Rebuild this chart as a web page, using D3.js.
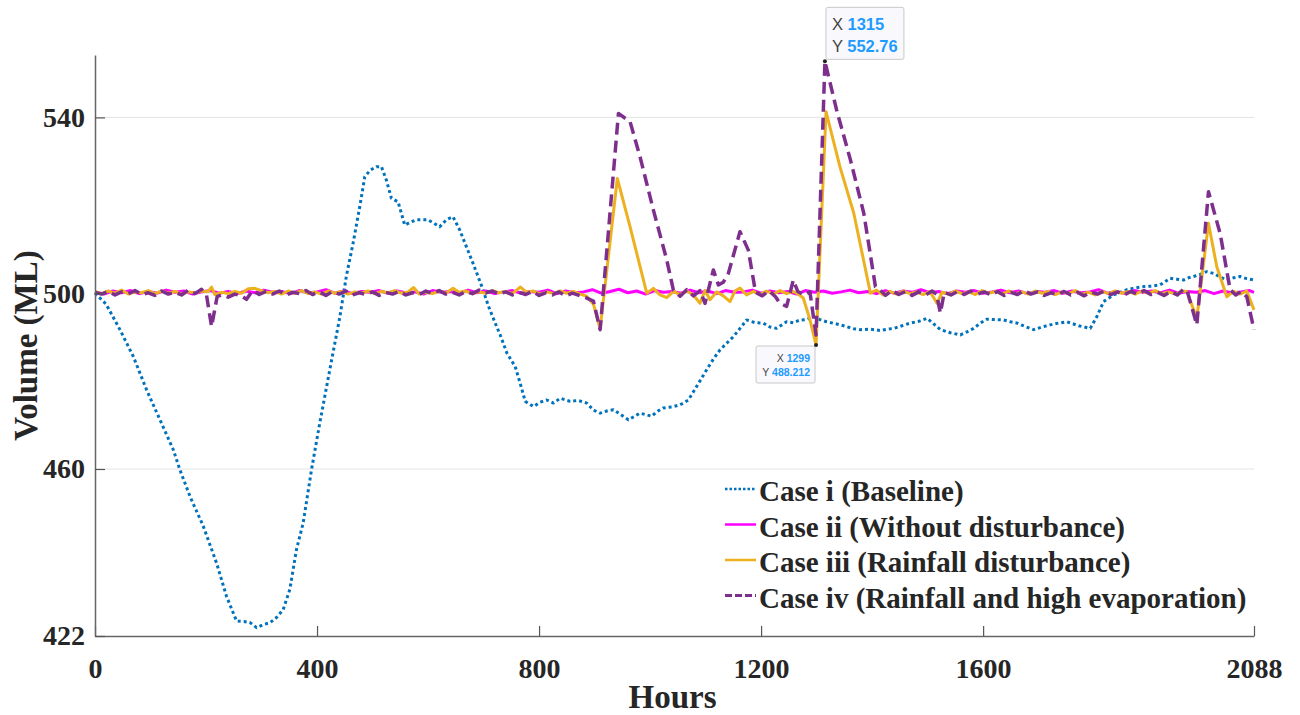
<!DOCTYPE html>
<html>
<head>
<meta charset="utf-8">
<script src="https://cdnjs.cloudflare.com/ajax/libs/d3/7.8.5/d3.min.js"></script>
<style>
  body { margin: 0; background: #fff; }
  svg text { font-family: "Liberation Serif", "Times New Roman", serif; font-weight: bold; fill: #262626; }
  .tip text { font-family: "Liberation Sans", Arial, sans-serif; font-weight: normal; }
</style>
</head>
<body>
<div id="chart"></div>
<script>
var xTicks = [0, 400, 800, 1200, 1600, 2088],
    yTicks = [422, 460, 500, 540];

var seriesNames = ["Case i (Baseline)", "Case ii (Without disturbance)", "Case iii (Rainfall disturbance)", "Case iv (Rainfall and high evaporation)"];

// case i: [hour, volume]
var caseI = [[0,500],[20,497.5],[45,491.7],[69,485.6],[93,478],[117,471.2],[141,464.4],[153,459.8],[171,453.8],[195,447],[219,438.6],[237,431],[255,425.4],[268,425.3],[279,425.1],[291,423.9],[303,424.6],[315,425],[327,426.2],[339,428],[351,432.6],[363,441.7],[375,447.7],[390,459.8],[405,470.5],[423,482.6],[441,494.5],[453,504],[465,511.4],[477,519.7],[486,526.5],[496,528],[507,528.8],[516,528.8],[525,525.7],[534,521.6],[546,520.8],[558,515.5],[569,516.2],[579,516.7],[600,516.7],[612,515.8],[621,515.1],[633,516.7],[645,517.4],[657,514.4],[669,510.6],[681,506.8],[697,501.5],[709,497],[720,493.5],[730,490.5],[742,486.4],[757,483.3],[766,479.5],[775,475.4],[790,474.2],[802,475.2],[814,475.7],[826,475],[838,476.1],[856,475.4],[870,475.6],[886,475],[898,473.4],[910,472.7],[922,473.2],[934,473.5],[947,472.4],[961,471.2],[972,472],[982,472.7],[1003,472],[1013,473.1],[1024,473.9],[1039,474.1],[1054,474.6],[1069,475.7],[1084,478.8],[1102,482.6],[1114,485],[1126,487.1],[1138,488.6],[1150,490.1],[1162,492],[1174,493.9],[1189,493.3],[1204,493.2],[1216,492.3],[1228,492],[1246,493.5],[1258,493.3],[1270,493.9],[1282,494],[1294,494.7],[1306,494],[1318,493.5],[1336,493],[1354,492.4],[1367,491.9],[1379,491.7],[1397,491.8],[1415,491.5],[1427,491.8],[1439,492],[1454,492.6],[1469,493.2],[1484,493.6],[1499,494.3],[1511,493],[1523,491.7],[1541,491],[1559,490.5],[1571,491.2],[1583,492],[1595,493.2],[1607,494.1],[1622,494],[1637,493.9],[1649,493.5],[1661,493.2],[1676,492.4],[1691,491.7],[1706,492.3],[1721,492.8],[1736,493.2],[1751,493.5],[1772,492.6],[1793,492],[1805,494.7],[1817,498.1],[1835,499.6],[1847,500.2],[1859,500.8],[1874,501.2],[1889,501.5],[1904,501.6],[1919,501.9],[1937,503.4],[1949,503.2],[1961,503],[1970,503.5],[1979,503.8],[1991,504.3],[2003,504.9],[2015,504.5],[2027,503.7],[2039,503],[2051,503.5],[2063,503.8],[2075,503.3],[2088,503]];

// case ii: read every 16 h
var caseIIHours = d3.range(0, 2088, 16).concat([2088]);
var caseIIValues = [500.3,499.8,500.5,500.1,500.6,499.9,500.4,500.0,500.7,500.2,
  500.5,499.8,500.3,500.6,500.0,500.4,499.9,500.5,500.1,500.7,
  500.2,500.4,499.9,500.6,500.1,500.3,500.8,500.0,500.5,499.9,
  500.4,500.2,500.6,500.0,500.5,500.1,500.3,499.8,500.6,500.2,
  500.4,500.0,500.7,500.1,500.5,499.9,500.3,500.6,500.0,500.4,
  500.2,500.7,499.9,500.5,500.1,500.3,500.8,500.0,500.4,500.9,
  500.1,500.5,499.8,500.6,500.2,500.4,500.0,500.7,500.1,500.5,
  499.9,500.6,500.2,500.3,500.7,500.0,500.5,500.1,500.4,499.8,
  500.6,500.2,500.5,500.0,500.3,500.7,500.1,500.4,499.9,500.6,
  500.0,500.5,500.2,500.8,500.1,500.4,499.9,500.5,500.2,500.6,
  500.0,500.3,500.7,500.1,500.5,499.9,500.4,500.2,500.6,500.0,
  500.5,500.1,500.3,500.8,500.0,500.4,499.9,500.6,500.2,500.5,
  500.1,500.7,500.0,500.4,500.2,500.6,499.9,500.5,500.1,500.3,
  500.6,500.2];

var caseIII = [[0,500.4],[12,499.9],[24,500.5],[36,500.0],[48,500.7],[60,499.8],[72,500.3],[84,500.1],[96,500.6],[108,499.9],[120,500.5],[132,500.0],[144,500.4],[156,499.8],[168,500.3],[180,500.1],[192,500.5],[204,500.4],[210,501.4],[216,499.7],[228,500.2],[240,499.9],[252,500.4],[264,500.0],[276,501.0],[288,501.1],[300,500.6],[312,500.1],[324,500.4],[336,499.8],[348,500.5],[360,500.0],[372,500.6],[384,499.9],[396,500.3],[408,499.8],[420,500.5],[432,500.0],[444,500.4],[456,499.8],[468,500.3],[480,500.0],[492,500.5],[504,499.9],[516,500.4],[528,500.1],[540,500.6],[552,500.0],[564,500.3],[574,501.3],[584,499.8],[596,500.2],[608,499.9],[620,500.5],[632,500.0],[645,501.1],[656,500.2],[668,500.5],[680,499.9],[692,500.3],[704,500.0],[716,500.6],[728,500.1],[740,500.4],[752,499.9],[766,501.4],[778,500.2],[790,500.5],[802,499.8],[814,500.3],[826,499.9],[838,500.5],[850,500.0],[862,500.4],[874,499.8],[886,499.3],[898,497.5],[910,491.9],[941,526.1],[964,515.1],[994,500.0],[1006,501.1],[1018,499.6],[1030,499.0],[1042,500.4],[1054,499.7],[1066,500.5],[1078,499.6],[1090,497.7],[1099,500.6],[1108,498.5],[1120,500.3],[1132,499.4],[1144,498.1],[1153,500.5],[1162,501.2],[1174,499.6],[1186,500.4],[1198,499.7],[1210,500.5],[1222,499.8],[1234,500.6],[1246,499.9],[1258,500.4],[1268,499.7],[1276,498.9],[1288,494],[1299,488.212],[1317,541.3],[1342,528.8],[1367,518.2],[1397,500.0],[1408,500.7],[1420,499.6],[1432,500.4],[1444,499.8],[1456,500.5],[1468,499.9],[1480,500.3],[1492,499.7],[1504,500.4],[1517,497.7],[1526,500.2],[1538,499.8],[1550,500.5],[1562,499.9],[1574,500.3],[1586,499.7],[1598,500.6],[1610,500.0],[1622,500.4],[1634,499.8],[1646,500.5],[1658,499.9],[1670,500.3],[1682,499.8],[1694,500.5],[1706,500.0],[1718,500.4],[1730,499.7],[1742,500.3],[1754,499.9],[1766,500.6],[1778,499.8],[1790,500.2],[1802,499.6],[1814,500.4],[1826,499.9],[1838,500.5],[1850,500.0],[1862,500.4],[1874,499.8],[1886,500.5],[1898,500.0],[1910,500.6],[1922,499.9],[1934,500.3],[1946,499.8],[1958,500.5],[1967,500.4],[1985,494.3],[2006,515.9],[2021,506.0],[2039,499.2],[2051,500.4],[2063,499.8],[2075,500.5],[2088,496.2]];

var caseIV = [[0,500.2],[12,499.8],[24,500.4],[36,499.6],[48,500.3],[60,499.9],[72,500.6],[84,499.7],[96,500.1],[108,499.5],[120,500.5],[132,499.8],[144,500.2],[156,499.6],[168,500.7],[180,499.9],[192,500.9],[201,499.5],[210,492.4],[220,499.2],[228,499.6],[240,499.1],[252,499.8],[264,499.4],[273,498.6],[284,500.6],[296,499.7],[308,500.4],[320,499.8],[332,500.5],[344,499.6],[356,500.2],[368,499.9],[380,500.6],[392,499.7],[404,500.3],[416,499.5],[428,500.4],[440,499.8],[452,500.5],[464,499.6],[476,500.1],[488,499.7],[500,500.3],[512,499.5],[524,500.2],[536,499.8],[548,500.4],[560,499.6],[572,500.1],[584,499.7],[596,500.5],[608,499.9],[620,500.6],[632,499.8],[644,500.2],[656,499.6],[668,500.4],[680,499.9],[692,500.7],[704,500.1],[716,500.5],[728,499.8],[740,500.3],[752,499.6],[764,500.2],[776,499.7],[788,500.4],[800,499.5],[812,500.1],[824,499.6],[836,500.3],[848,499.4],[860,500.0],[872,499.5],[884,499.0],[898,498.2],[910,491.7],[943,540.9],[964,539.0],[982,531],[1006,518.9],[1030,507.6],[1042,500.7],[1054,499.3],[1066,500.8],[1078,499.4],[1090,500.6],[1099,497.7],[1114,505.3],[1123,501.9],[1132,502.5],[1141,504.5],[1162,514.0],[1177,509.8],[1190,500.2],[1202,499.4],[1214,500.6],[1226,499.2],[1234,497.7],[1246,497.0],[1258,503.0],[1266,500.4],[1278,499.6],[1288,500.3],[1299,490.5],[1315,552.76],[1336,541.7],[1361,530.3],[1385,518.2],[1406,501.5],[1414,500.8],[1424,499.5],[1436,500.6],[1448,499.7],[1460,500.4],[1472,499.5],[1484,500.3],[1496,499.6],[1508,500.5],[1516,499.8],[1523,495.5],[1530,500.2],[1542,499.6],[1554,500.4],[1566,499.7],[1578,500.5],[1590,499.8],[1602,500.3],[1614,499.6],[1626,500.4],[1638,499.5],[1650,500.2],[1662,499.7],[1674,500.6],[1686,499.8],[1698,500.3],[1710,499.5],[1722,500.1],[1734,499.7],[1746,500.4],[1758,499.6],[1770,500.2],[1782,499.4],[1794,500.3],[1806,499.8],[1818,500.5],[1830,499.7],[1842,500.3],[1854,499.6],[1866,500.4],[1878,499.8],[1890,500.6],[1902,499.7],[1914,500.2],[1926,499.5],[1938,500.4],[1950,499.6],[1960,500.8],[1967,500.8],[1985,492.8],[2006,523.1],[2027,513.6],[2045,500.8],[2055,499.6],[2065,500.4],[2075,499.2],[2088,491.7]];

// data tips shown on the figure
var tips = [{x: 1315, y: 552.76, label: "552.76", big: true},
            {x: 1299, y: 488.212, label: "488.212", big: false}];

var margin = {top: 55, right: 46, bottom: 79, left: 95},
    width = 1300 - margin.left - margin.right,
    height = 715 - margin.top - margin.bottom;

var x = d3.scaleLinear().domain([0, 2088]).range([0, width]);
var y = d3.scaleLinear().domain([422, 554.2]).range([height, 0]);

var svg = d3.select("#chart").append("svg")
    .attr("width", 1300)
    .attr("height", 715)
  .append("g")
    .attr("transform", "translate(" + margin.left + "," + margin.top + ")");

// horizontal grid
svg.append("g")
    .selectAll("line")
    .data(yTicks.slice(1))
  .enter().append("line")
    .attr("x1", 0).attr("x2", width)
    .attr("y1", function(d) { return y(d); })
    .attr("y2", function(d) { return y(d); })
    .attr("stroke", "#e3e3e3")
    .attr("stroke-width", 1);

var line = d3.line()
    .x(function(d) { return x(d[0]); })
    .y(function(d) { return y(d[1]); });

var caseII = caseIIHours.map(function(h, i) { return [h, caseIIValues[i]]; })
    .filter(function(d) { return d[1] !== undefined; });

var series = [
  {data: caseI, color: "#0072BD", width: 3, dash: "3,3"},
  {data: caseII, color: "#FF00FF", width: 3, dash: null},
  {data: caseIII, color: "#EDB120", width: 3, dash: null},
  {data: caseIV, color: "#7E2F8E", width: 3.5, dash: "12,6"}
];

svg.selectAll(".series")
    .data(series)
  .enter().append("path")
    .attr("class", "series")
    .attr("d", function(d) { return line(d.data); })
    .attr("fill", "none")
    .attr("stroke", function(d) { return d.color; })
    .attr("stroke-width", function(d) { return d.width; })
    .attr("stroke-dasharray", function(d) { return d.dash; })
    .attr("stroke-linejoin", "round");

// axes, ticks pointing inward
var xAxis = svg.append("g")
    .attr("transform", "translate(0," + height + ")")
    .call(d3.axisBottom(x).tickValues(xTicks).tickSizeInner(-10).tickSizeOuter(0).tickPadding(22).tickFormat(d3.format("d")));

var yAxis = svg.append("g")
    .call(d3.axisLeft(y).tickValues(yTicks).tickSizeInner(-10).tickSizeOuter(0).tickPadding(10).tickFormat(d3.format("d")));

[xAxis, yAxis].forEach(function(a) {
  a.select(".domain").attr("stroke", "#666").attr("stroke-width", 1.5);
  a.selectAll(".tick line").attr("stroke", "#555").attr("stroke-width", 1.2);
  a.selectAll(".tick text").attr("font-size", 28).attr("fill", "#262626")
    .style("font-family", "Liberation Serif").style("font-weight", "bold");
});

svg.append("text")
    .attr("x", width / 2 - 2)
    .attr("y", height + 72)
    .attr("text-anchor", "middle")
    .attr("font-size", 33)
    .text("Hours");

svg.append("text")
    .attr("transform", "translate(-58," + (height / 2) + ") rotate(-90)")
    .attr("text-anchor", "middle")
    .attr("font-size", 33)
    .text("Volume (ML)");

// legend
var legend = svg.selectAll(".legend")
    .data(series)
  .enter().append("g")
    .attr("class", "legend")
    .attr("transform", function(d, i) { return "translate(630," + (436 + i * 35.5) + ")"; });

legend.append("line")
    .attr("x1", 0).attr("x2", 31)
    .attr("y1", -2).attr("y2", -2)
    .attr("stroke", function(d) { return d.color; })
    .attr("stroke-width", function(d) { return d.width - 0.5; })
    .attr("stroke-dasharray", function(d) { return d.dash ? (d.dash === "3,3" ? "2.5,2" : "7,3") : null; });

legend.append("text")
    .attr("x", 34)
    .attr("y", 0)
    .attr("dy", "0.35em")
    .attr("font-size", 29)
    .text(function(d, i) { return seriesNames[i]; });

// data tips
var tip = svg.selectAll(".tip")
    .data(tips)
  .enter().append("g")
    .attr("class", "tip")
    .attr("transform", function(d) { return "translate(" + x(d.x) + "," + y(d.y) + ")"; });

tip.append("rect")
    .attr("x", function(d) { return d.big ? 1 : -60; })
    .attr("y", function(d) { return d.big ? -54 : 1; })
    .attr("width", function(d) { return d.big ? 78 : 59; })
    .attr("height", function(d) { return d.big ? 52 : 37; })
    .attr("rx", 2)
    .attr("fill", "#f9f9fd")
    .attr("stroke", "#c8c8c8");

tip.append("circle")
    .attr("r", 2)
    .attr("fill", "#222");

tip.each(function(d) {
  var g = d3.select(this),
      fs = d.big ? 16.5 : 10.5,
      rows = [["X", d.x], ["Y", d.label]];
  rows.forEach(function(r, i) {
    var t = g.append("text")
        .attr("font-size", fs)
        .attr("text-anchor", d.big ? "start" : "end")
        .attr("x", d.big ? 7 : -6)
        .attr("y", d.big ? (-31 + i * 22) : (17 + i * 14));
    t.append("tspan").attr("fill", "#444").text(r[0] + " ");
    t.append("tspan").attr("fill", "#1e9bff").attr("font-weight", "bold").text(r[1]);
  });
});
</script>
</body>
</html>
